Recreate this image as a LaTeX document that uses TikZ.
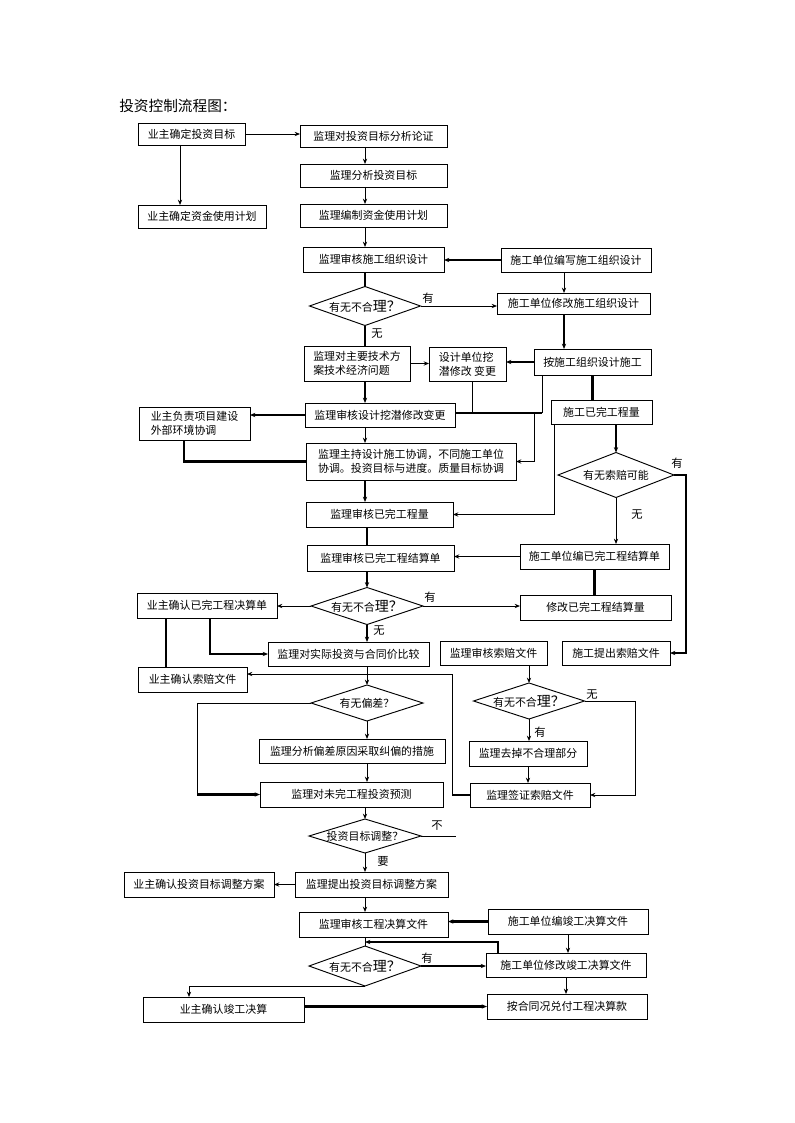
\documentclass[tikz,border=0pt]{standalone}
\usepackage{fontspec}
\setmainfont{Noto Sans CJK SC}
\usetikzlibrary{shapes.geometric,arrows.meta}
\newcommand\mybox[7][]{%
  \pgfmathsetmacro\myCx{(#3+#5)/2}%
  \pgfmathsetmacro\myCy{(#4+#6)/2}%
  \pgfmathsetmacro\myW{(#5-#3)*0.75}%
  \pgfmathsetmacro\myH{(#6-#4)*0.75}%
  \node[box,#1,minimum width=\myW pt,minimum height=\myH pt] (#2) at (\myCx,\myCy) {#7};}
\newcommand\mydia[6]{%
  \pgfmathsetmacro\myW{#4*0.75}%
  \pgfmathsetmacro\myH{#5*0.75}%
  \pgfmathsetmacro\myA{#4/#5}%
  \node[dia,minimum width=\myW pt,minimum height=\myH pt,shape aspect=\myA] (#1) at (#2,#3) {#6};}
\newcommand\ywbh{有无不合{\fontsize{10.5}{10}\selectfont 理？}}
\begin{document}
\begin{tikzpicture}[x=0.75pt,y=-0.75pt,
  box/.style={draw,line width=0.7pt,inner sep=0pt,outer sep=0pt,font=\fontsize{8.2}{10.5}\selectfont},
  dia/.style={draw,diamond,line width=0.7pt,inner sep=0pt,outer sep=0pt,font=\fontsize{8.2}{10}\selectfont},
  ln/.style={line width=0.7pt},
  tk/.style={line width=1.6pt},
  ar/.style={-{Stealth[length=4pt,width=3.2pt]}},
  lab/.style={font=\fontsize{8.5}{10}\selectfont,inner sep=0pt}]
\fill[white] (0,0) rectangle (794,1123);
\useasboundingbox (0,0) rectangle (794,1123);

\node[anchor=west,font=\fontsize{11}{13}\selectfont,inner sep=0pt] (title) at (119,106) {投资控制流程图：};

\mybox{b1}{138}{123}{245}{145}{业主确定投资目标}
\mybox{b2}{300}{125}{447}{147}{监理对投资目标分析论证}
\mybox{b3}{300}{164}{447}{187}{监理分析投资目标}
\mybox{b4}{138}{205}{266}{228}{业主确定资金使用计划}
\mybox{b5}{300}{204}{447}{227}{监理编制资金使用计划}
\mybox{b6}{303}{247}{444}{272}{监理审核施工组织设计}
\mybox{b7}{501}{248}{651}{272}{施工单位编写施工组织设计}
\mydia{d1}{365}{306}{111}{39}{\ywbh}
\mybox{b8}{497}{293}{650}{314}{施工单位修改施工组织设计}
\mybox{b9}{534}{349}{651}{375}{按施工组织设计施工}
\mybox[align=left]{b10}{304}{346}{410}{381}{监理对主要技术方\\案技术经济问题}
\mybox[align=left]{b11}{429}{347}{506}{381}{设计单位挖\\潜修改 变更}
\mybox{b12}{305}{403}{455}{427}{监理审核设计挖潜修改变更}
\mybox[align=left]{b13}{139}{407}{250}{440}{业主负责项目建设\\外部环境协调}
\mybox[align=left]{b14}{306}{443}{516}{480}{监理主持设计施工协调，不同施工单位\\协调。投资目标与进度。质量目标协调}
\mybox{b15}{551}{400}{652}{424}{施工已完工程量}
\mydia{d2}{616}{475}{116}{45}{有无索赔可能}
\mybox{b16}{306}{502}{453}{527}{监理审核已完工程量}
\mybox{b17}{307}{545}{454}{571}{监理审核已完工程结算单}
\mybox{b18}{520}{544}{669}{569}{施工单位编已完工程结算单}
\mydia{d3}{367}{606}{112}{37}{\ywbh}
\mybox{b19}{137}{593}{277}{618}{业主确认已完工程决算单}
\mybox{b20}{520}{595}{671}{620}{修改已完工程结算量}
\mybox{b21}{268}{642}{429}{666}{监理对实际投资与合同价比较}
\mybox{b22}{440}{641}{547}{665}{监理审核索赔文件}
\mybox{b23}{562}{641}{670}{665}{施工提出索赔文件}
\mybox{b24}{138}{667}{247}{692}{业主确认索赔文件}
\mydia{d4}{367}{703}{112}{36}{有无偏差？}
\mydia{d5}{529}{701}{111}{36}{\ywbh}
\mybox{b25}{259}{739}{445}{763}{监理分析偏差原因采取纠偏的措施}
\mybox{b26}{469}{741}{587}{766}{监理去掉不合理部分}
\mybox{b27}{260}{782}{443}{807}{监理对未完工程投资预测}
\mybox{b28}{470}{783}{590}{807}{监理签证索赔文件}
\mydia{d6}{365}{836}{112}{34}{投资目标调整？}
\mybox{b29}{295}{872}{448}{897}{监理提出投资目标调整方案}
\mybox{b30}{124}{872}{274}{897}{业主确认投资目标调整方案}
\mybox{b31}{299}{912}{448}{937}{监理审核工程决算文件}
\mybox{b32}{488}{909}{648}{934}{施工单位编竣工决算文件}
\mydia{d7}{365}{966}{112}{40}{\ywbh}
\mybox{b33}{486}{953}{646}{977}{施工单位修改竣工决算文件}
\mybox{b34}{143}{997}{304}{1022}{业主确认竣工决算}
\mybox{b35}{487}{994}{647}{1019}{按合同况兑付工程决算款}

\coordinate (xA) at (180,0);
\coordinate (xR1) at (564,0);
\coordinate (xR2) at (686,0);
\coordinate (xR3) at (554,0);
\coordinate (xR4) at (472,0);
\coordinate (j1) at (542,413);
\coordinate (xR5) at (534,0);
\coordinate (xL1) at (184,0);
\coordinate (xL2) at (166,0);
\coordinate (xL3) at (210,0);
\coordinate (xL4) at (452,0);
\coordinate (yC) at (0,674);
\coordinate (xL5) at (197,0);
\coordinate (xR6) at (635,0);
\coordinate (e1) at (456,836);
\coordinate (xR8) at (498,0);
\coordinate (yD) at (0,942);
\coordinate (xL6) at (189,0);

\draw[ln,ar] (b1.east) -- (b1.east -| b2.west);
\draw[ln,ar] (b1.south -| xA) -- (xA |- b4.north);
\draw[ln,ar] (b2.south -| d1) -- (b3.north -| d1);
\draw[ln,ar] (b3.south -| d1) -- (b5.north -| d1);
\draw[ln,ar] (b5.south -| d1) -- (b6.north -| d1);
\draw[tk,ar] (b7.west) -- (b7.west -| b6.east);
\draw[tk] (b6.south -| d1) -- (d1.north);
\draw[ln,ar] (d1.east) -- (d1.east -| b8.west);
\draw[ln,ar] (b7.south -| xR1) -- (xR1 |- b8.north);
\draw[tk,ar] (b8.south -| xR1) -- (xR1 |- b9.north);
\draw[tk] (d1.south) -- (b10.north -| d1);
\draw[ln,ar] (b10.east) -- (b10.east -| b11.west);
\draw[tk,ar] (b9.west) -- (b9.west -| b11.east);
\draw[tk,ar] (b10.south -| d1) -- (b12.north -| d1);
\draw[ln] (b9.south -| j1) -- (j1);
\draw[tk] (j1) -- (j1 -| b12.east);
\draw[ln] (b11.south -| xR4) -- (xR4 |- j1);
\draw[ln,ar] (xR5 |- j1) -- (xR5 |- b14.east) -- (b14.east);
\draw[tk,ar] (b12.west) -- (b12.west -| b13.east);
\draw[tk] (b13.south -| xL1) -- (xL1 |- b14.west) -- (b14.west);
\draw[ln,ar] (b12.south -| d1) -- (b14.north -| d1);
\draw[tk,ar] (b14.south -| d1) -- (b16.north -| d1);
\draw[tk] (b9.south) -- (b9.south |- b15.north);
\draw[tk,ar] (b15.south -| d2) -- (d2.north);
\draw[ln,ar] (b15.south -| xR3) -- (xR3 |- b16.east) -- (b16.east);
\draw[tk,ar] (d2.east) -- (d2.east -| xR2) -- (xR2 |- b23.east) -- (b23.east);
\draw[ln,ar] (d2.south) -- (d2.south |- b18.north);
\draw[tk] (b16.south -| d3) -- (b17.north -| d3);
\draw[ln,ar] (b18.west) -- (b18.west -| b17.east);
\draw[tk,ar] (b17.south -| d3) -- (d3.north);
\draw[ln,ar] (d3.east) -- (d3.east -| b20.west);
\draw[tk] (b18.south) -- (b18.south |- b20.north);
\draw[ln,ar] (d3.west) -- (d3.west -| b19.east);
\draw[tk,ar] (d3.south) -- (b21.north -| d3);
\draw[tk] (b19.south -| xL2) -- (xL2 |- b24.north);
\draw[tk,ar] (b19.south -| xL3) -- (xL3 |- b21.west) -- (b21.west);
\draw[ln,ar] (b21.south -| d4) -- (d4.north);
\draw[ln,ar] (b22.south -| d5) -- (d5.north);
\draw[ln,ar] (d5.south) -- (d5.south |- b26.north);
\draw[ln,ar] (d5.east) -- (d5.east -| xR6) -- (xR6 |- b28.east) -- (b28.east);
\draw[ln,ar] (b26.south) -- (b26.south |- b28.north);
\draw[tk] (b28.west) -- (b28.west -| xL4);
\draw[ln,ar] (b28.west -| xL4) -- (xL4 |- yC) -- (yC -| b24.east);
\draw[ln,ar] (d4.south) -- (d4.south |- b25.north);
\draw[ln,ar] (b25.south -| d4) -- (b27.north -| d4);
\draw[ln] (d4.west) -- (d4.west -| xL5) -- (xL5 |- b27.west);
\draw[tk,ar] (xL5 |- b27.west) -- (b27.west);
\draw[ln,ar] (b27.south -| d6) -- (d6.north);
\draw[ln] (d6.east) -- (e1);
\draw[ln,ar] (d6.south) -- (b29.north -| d6);
\draw[ln,ar] (b29.west) -- (b29.west -| b30.east);
\draw[ln,ar] (b29.south -| d6) -- (b31.north -| d6);
\draw[tk,ar] (b32.west) -- (b32.west -| b31.east);
\draw[ln] (b31.south -| d7) -- (d7.north);
\draw[tk,ar] (d7.east) -- (d7.east -| b33.west);
\draw[ln,ar] (b32.south) -- (b32.south |- b33.north);
\draw[tk,ar] (b33.north -| xR8) -- (xR8 |- yD) -- (yD -| d7);
\draw[ln,ar] (d7.south) -- (d7.south -| xL6) -- (xL6 |- b34.north);
\draw[tk,ar] (b34.east |- b35.west) -- (b35.west);
\draw[ln,ar] (b33.south) -- (b33.south |- b35.north);

\node[lab] (l1) at (428,298) {有};
\node[lab] (l2) at (377,334) {无};
\node[lab] (l3) at (677,463) {有};
\node[lab] (l4) at (637,515) {无};
\node[lab] (l5) at (430,597) {有};
\node[lab] (l6) at (379,631) {无};
\node[lab] (l7) at (592,695) {无};
\node[lab] (l8) at (540,732) {有};
\node[lab] (l9) at (437,826) {不};
\node[lab] (l10) at (383,861) {要};
\node[lab] (l11) at (427,958) {有};
\end{tikzpicture}
\end{document}
